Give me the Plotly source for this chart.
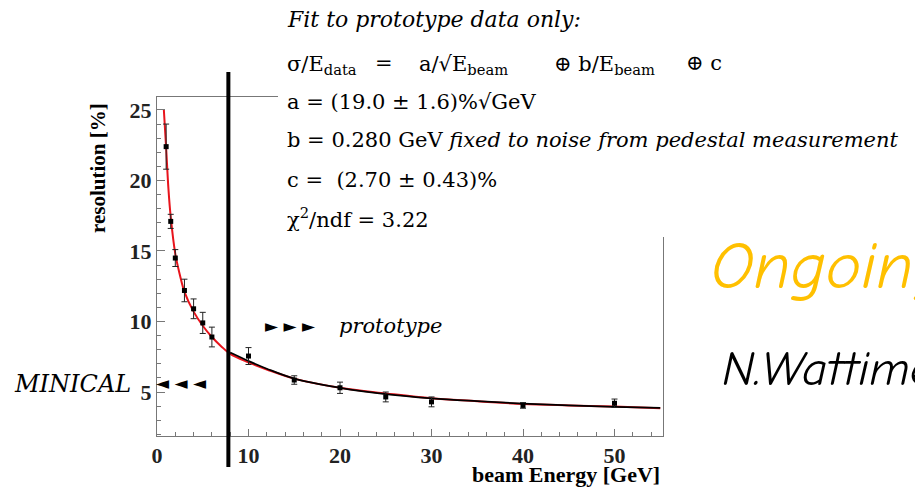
import plotly.graph_objects as go

# ---------------- data ----------------
minical_E = [1, 1.5, 2, 3, 4, 5, 6]
minical_res = [22.4, 17.1, 14.5, 12.2, 10.9, 9.9, 8.9]
minical_err = [1.6, 0.5, 0.6, 0.8, 0.7, 0.75, 0.7]

proto_E = [10, 15, 20, 25, 30, 40, 50]
proto_res = [7.55, 5.85, 5.3, 4.65, 4.3, 4.05, 4.2]
proto_err = [0.6, 0.3, 0.4, 0.35, 0.35, 0.2, 0.3]

red_fit_E = [0.75, 1, 1.25, 1.5, 2, 2.5, 3, 4, 5, 6, 7, 8, 10, 12, 15, 20, 25, 30, 35, 40, 45, 50, 55]
red_fit_res = [25.0, 22.3, 19.4, 17.4, 14.8, 13.3, 12.1, 10.7, 9.7, 8.9, 8.25, 7.7, 7.1, 6.6, 5.95,
               5.3, 4.9, 4.55, 4.35, 4.15, 4.05, 3.97, 3.85]

black_fit_E = [8, 10, 12, 15, 20, 25, 30, 35, 40, 45, 50, 55]
black_fit_res = [7.8, 7.2, 6.65, 5.95, 5.3, 4.85, 4.55, 4.35, 4.18, 4.05, 3.95, 3.87]

x_ticks = [0, 10, 20, 30, 40, 50]
y_ticks = [5, 10, 15, 20, 25]
divider_E = 7.8

# ---------------- layout geometry ----------------
W, H = 915, 490
L, R, T, B = 157, 663, 97, 436


def px(x):
    return (x - L) / (R - L)


def py(y):
    return (B - y) / (B - T)


SERIF = "Liberation Serif, Times New Roman, serif"
WSERIF = "DejaVu Serif, Liberation Serif, serif"
COMIC = "Comic Sans MS, Comic Neue, Open Sans, sans-serif"

fig = go.Figure()

fig.add_trace(go.Scatter(
    x=red_fit_E, y=red_fit_res, mode="lines",
    line=dict(color="#e8141c", width=2, shape="spline"), hoverinfo="skip", showlegend=False))
fig.add_trace(go.Scatter(
    x=black_fit_E, y=black_fit_res, mode="lines",
    line=dict(color="black", width=1.8, shape="spline"), hoverinfo="skip", showlegend=False))
fig.add_trace(go.Scatter(
    x=minical_E, y=minical_res, mode="markers",
    marker=dict(color="black", size=5, symbol="square"),
    error_y=dict(type="data", array=minical_err, color="#222", thickness=1, width=3),
    showlegend=False))
fig.add_trace(go.Scatter(
    x=proto_E, y=proto_res, mode="markers",
    marker=dict(color="black", size=5, symbol="square"),
    error_y=dict(type="data", array=proto_err, color="#222", thickness=1, width=3),
    showlegend=False))

shapes = [
    # white box of the fit-result text covering top/right of the frame
    dict(type="rect", xref="paper", yref="paper", x0=px(278), x1=px(W + 20), y0=py(237), y1=py(-20),
         fillcolor="white", line=dict(width=0), layer="above"),
    # thick vertical divider
    dict(type="line", xref="x", yref="paper", x0=divider_E, x1=divider_E, y0=py(467), y1=py(72),
         line=dict(color="black", width=4), layer="above"),
]

ann = []


def text(x, y, s, size=24, family=SERIF, color="black", xanchor="left", italic=False, bold=False,
         angle=0, weight=None):
    f = dict(family=family, size=size, color=color)
    if italic:
        f["style"] = "italic"
    if bold:
        f["weight"] = "bold"
    if weight:
        f["weight"] = weight
    ann.append(dict(xref="paper", yref="paper", x=px(x), y=py(y), text=s, showarrow=False,
                    xanchor=xanchor, yanchor="middle", font=f, textangle=angle))


# fit result box
text(285, 19, "Fit to prototype data only:", size=22, family=WSERIF, italic=True)
text(285, 65, "σ/E<sub>data</sub>", size=21, family=WSERIF)
text(373, 63, "=", size=21, family=WSERIF)
text(417, 65, "a/√E<sub>beam</sub>", size=21, family=WSERIF)
text(552, 65, "⊕ b/E<sub>beam</sub>", size=21, family=WSERIF)
text(684, 63, "⊕ c", size=21, family=WSERIF)
text(285, 102, "a = (19.0 ± 1.6)%√GeV", size=21, family=WSERIF)
text(285, 140, "b = 0.280 GeV <i>fixed to noise from pedestal measurement</i>", size=21, family=WSERIF)
text(285, 180, "c =  (2.70 ± 0.43)%", size=21, family=WSERIF)
text(285, 218, "χ<sup>2</sup>/ndf = 3.22", size=21, family=WSERIF)

# in-plot labels
text(263, 326, "► ► ►", size=17, family="DejaVu Sans")
text(337, 326, "prototype", size=21, family=WSERIF, italic=True)
text(154, 383, "◄ ◄ ◄", size=17, family="DejaVu Sans")
text(12, 384, "MINICAL", size=24, family=WSERIF, italic=True)

# axis titles
text(98, 168, "resolution [%]", size=21, bold=True, xanchor="center", angle=-90)
text(662, 474, "beam Energy [GeV]", size=22, bold=True, xanchor="right")

# slide texts
text(709, 266, "Ongoing", size=67, family=COMIC, color="#ffc000", italic=True, weight=500)
text(720, 369, "N.Wattimena", size=49, family=COMIC, italic=True, weight=500)

fig.update_layout(
    width=W, height=H,
    margin=dict(l=L, r=W - R, t=T, b=H - B),
    paper_bgcolor="white", plot_bgcolor="white",
    shapes=shapes, annotations=ann, showlegend=False,
    xaxis=dict(range=[0, 55.3], tickvals=x_ticks, ticks="inside", ticklen=7, tickcolor="#777",
               showline=True, linecolor="#777", linewidth=1, mirror=True, showgrid=False, zeroline=False,
               tickfont=dict(family=SERIF, size=22, weight="bold", color="#222"),
               minor=dict(dtick=2, ticks="inside", ticklen=4, tickcolor="#777")),
    yaxis=dict(range=[1.88, 25.92], tickvals=y_ticks, ticks="inside", ticklen=8, tickcolor="#777",
               showline=True, linecolor="#777", linewidth=1, mirror=True, showgrid=False, zeroline=False,
               tickfont=dict(family=SERIF, size=22, weight="bold", color="#222"),
               minor=dict(dtick=1, ticks="inside", ticklen=4, tickcolor="#777")),
)

fig.write_html("out.html", config={"displayModeBar": False},
               post_script="document.body.style.margin='0';")
